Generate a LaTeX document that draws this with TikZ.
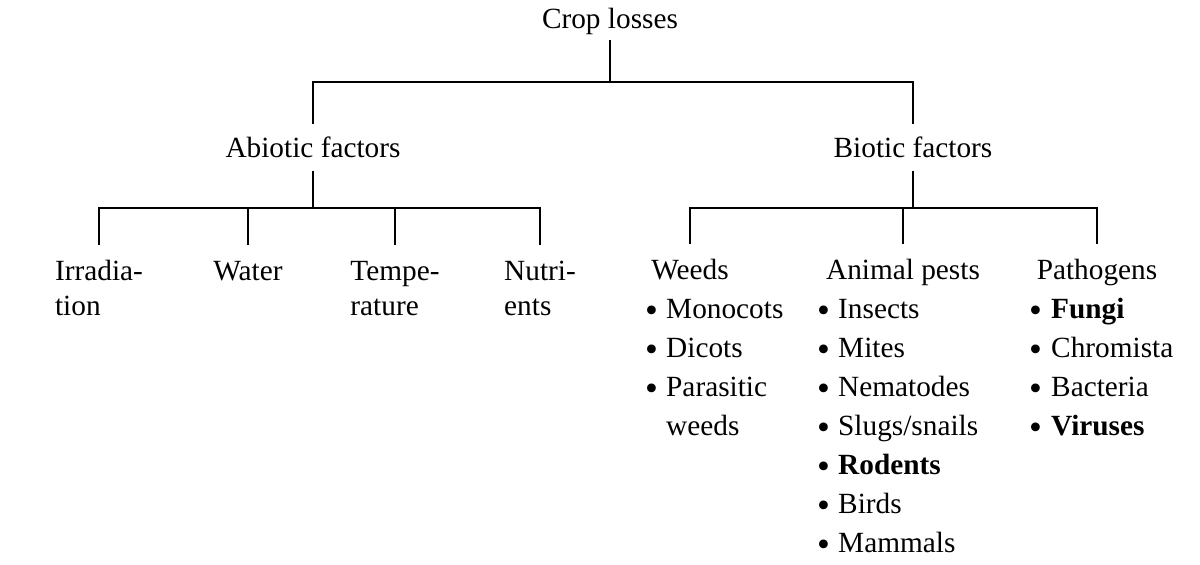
\documentclass[tikz,border=0pt]{standalone}
\usepackage{fontspec}
\setmainfont{Liberation Serif}
\newcommand\bigblt{\raisebox{-4.5pt}{\scalebox{1.25}{\textbullet}}}
\newcommand\blt{\makebox[21pt][l]{\bigblt}}
\newcommand\bltp{\makebox[22pt][l]{\bigblt}}
\tikzset{
  txt/.style={font=\fontsize{29.3}{35}\selectfont, inner sep=0pt, text=black},
  topnode/.style={txt, anchor=base, text height=20pt, text depth=12pt},
  midnode/.style={txt, anchor=base, text height=33pt, text depth=14pt},
  leafnode/.style={txt, anchor=base, text height=35pt, text depth=7pt},
  contline/.style={txt, anchor=base west},
  listnode/.style={font=\fontsize{29.3}{39}\selectfont, inner sep=0pt, anchor=base west, text=black},
  conn/.style={line width=1.8pt, black}
}
\begin{document}
\begin{tikzpicture}[x=1pt,y=-1pt]
\useasboundingbox (0,0) rectangle (1200,565);
% bus levels
\coordinate (bus1) at (0,82);
\coordinate (bus2) at (0,208);
% nodes
\node[topnode] (root) at (610,28) {Crop losses};
\node[midnode] (abio) at (313,157) {Abiotic factors};
\node[midnode] (bio) at (913,157) {Biotic factors};
\node[leafnode] (irr) at (99,280) {Irradia-};
\node[leafnode] (wat) at (248,280) {Water};
\node[leafnode] (temp) at (395,280) {Tempe-};
\node[leafnode] (nut) at (540,280) {Nutri-};
\node[contline] (irr2) at ([yshift=-35pt]irr.base west) {tion};
\node[contline] (temp2) at ([yshift=-35pt]temp.base west) {rature};
\node[contline] (nut2) at ([yshift=-35pt]nut.base west) {ents};
\node[leafnode] (weeds) at (690,279) {Weeds};
\node[leafnode] (animal) at (903,279) {Animal pests};
\node[leafnode] (path) at (1097,279) {Pathogens};
\node[listnode] (weedlist) at (645,318) {\begin{tabular}[t]{@{}l@{}}
\blt Monocots\\
\blt Dicots\\
\blt Parasitic\\
\makebox[21pt]{}weeds
\end{tabular}};
\node[listnode] (animallist) at (817,318) {\begin{tabular}[t]{@{}l@{}}
\blt Insects\\
\blt Mites\\
\blt Nematodes\\
\blt Slugs/snails\\
\blt {\bfseries Rodents}\\
\blt Birds\\
\blt Mammals
\end{tabular}};
\node[listnode] (pathlist) at (1029,318) {\begin{tabular}[t]{@{}l@{}}
\bltp{\bfseries Fungi}\\
\bltp Chromista\\
\bltp Bacteria\\
\bltp{\bfseries Viruses}
\end{tabular}};
% connectors
\draw[conn] (root.south) -- (root.south |- bus1);
\draw[conn] (abio.north) |- (bio.north |- bus1) -- (bio.north);
\draw[conn] (abio.south) -- (abio.south |- bus2);
\draw[conn] (irr.north) |- (nut.north |- bus2) -- (nut.north);
\draw[conn] (wat.north) -- (wat.north |- bus2);
\draw[conn] (temp.north) -- (temp.north |- bus2);
\draw[conn] (bio.south) -- (bio.south |- bus2);
\draw[conn] (weeds.north) |- (path.north |- bus2) -- (path.north);
\draw[conn] (animal.north) -- (animal.north |- bus2);
\end{tikzpicture}
\end{document}
